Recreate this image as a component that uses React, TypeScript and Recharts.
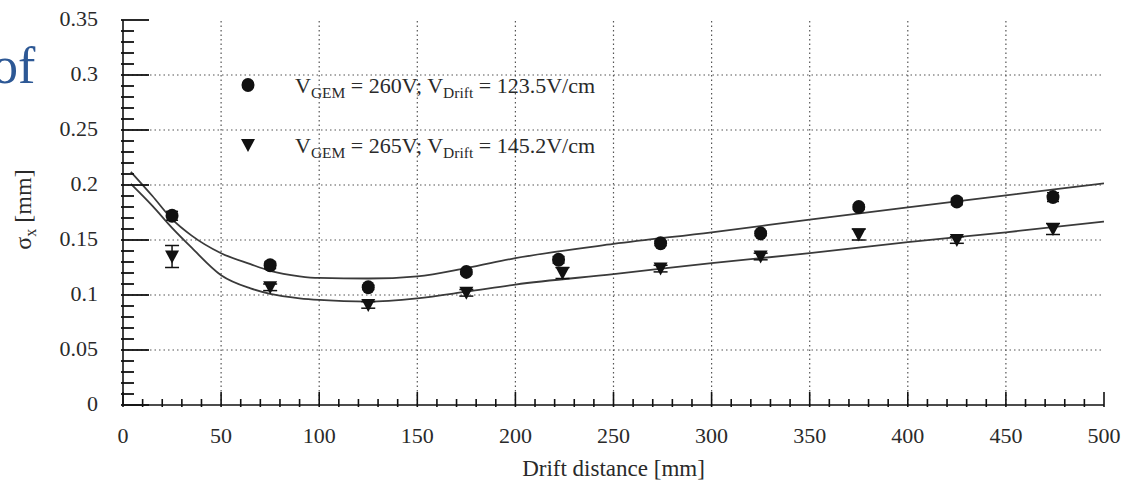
import React from 'react';
import { ComposedChart, XAxis, YAxis, Scatter, Line, ErrorBar, ReferenceLine, Legend, Label } from 'recharts';

// measured points, V_GEM = 260V
const DIST_260 = [25, 75, 125, 175, 222, 274, 325, 375, 425, 474];
const SIGMA_260 = [0.172, 0.127, 0.107, 0.121, 0.132, 0.147, 0.156, 0.18, 0.185, 0.189];
const ERR_260 = [0.004, 0.003, 0.002, 0.002, 0.003, 0.002, 0.002, 0.002, 0.003, 0.004];

// measured points, V_GEM = 265V
const DIST_265 = [25, 75, 125, 175, 224, 274, 325, 375, 425, 474];
const SIGMA_265 = [0.135, 0.107, 0.091, 0.102, 0.12, 0.124, 0.135, 0.155, 0.15, 0.16];
const ERR_265 = [0.01, 0.003, 0.003, 0.003, 0.005, 0.003, 0.003, 0.005, 0.003, 0.005];

// fit curves
const FIT_X = [4, 15, 25, 35, 50, 65, 75, 90, 100, 125, 150, 175, 200, 250, 300, 350, 400, 450, 500];
const FIT_260 = [0.212, 0.19, 0.169, 0.154, 0.138, 0.128, 0.122, 0.117, 0.1155, 0.115, 0.117, 0.1245, 0.1335, 0.1464, 0.157, 0.1685, 0.1797, 0.1906, 0.2015];
const FIT_265 = [0.201, 0.181, 0.161, 0.143, 0.118, 0.106, 0.101, 0.097, 0.0955, 0.094, 0.097, 0.103, 0.1095, 0.119, 0.129, 0.138, 0.148, 0.157, 0.1667];

const X_MAJOR = [0, 50, 100, 150, 200, 250, 300, 350, 400, 450, 500];
const Y_MAJOR = [0, 0.05, 0.1, 0.15, 0.2, 0.25, 0.3, 0.35];
const X_GRID = [50, 100, 150, 200, 250, 300, 350, 400, 450];
const Y_GRID = [0.05, 0.1, 0.15, 0.2, 0.25, 0.3];

// minor ticks every 10 mm / 0.01 mm
const X_TICKS = Array.from({ length: 51 }, (_, i) => i * 10);
const Y_TICKS = Array.from({ length: 36 }, (_, i) => i / 100);

const pts260 = DIST_260.map((x, i) => ({ x, y: SIGMA_260[i], err: ERR_260[i] }));
const pts265 = DIST_265.map((x, i) => ({ x, y: SIGMA_265[i], err: ERR_265[i] }));
const fit260 = FIT_X.map((x, i) => ({ x, y: FIT_260[i] }));
const fit265 = FIT_X.map((x, i) => ({ x, y: FIT_265[i] }));

const FONT = '"Liberation Serif", "DejaVu Serif", serif';
const INK = '#111';
const TXT = '#2a2a2a';

const isMajorX = (v: number) => X_MAJOR.includes(v);
const isMajorY = (v: number) => Y_MAJOR.some((m) => Math.abs(m - v) < 1e-6);

const BottomTick = (p: any) => {
  const major = isMajorX(p.payload.value);
  return (
    <g>
      <line x1={p.x} x2={p.x} y1={p.y} y2={p.y - (major ? 15 : 8)} stroke={INK} strokeWidth={1.6} />
      {major && (
        <text x={p.x} y={p.y + 36} textAnchor="middle" fontSize={22} fontFamily={FONT} fill={TXT}>
          {p.payload.value}
        </text>
      )}
    </g>
  );
};

const TopTick = (p: any) => {
  const major = isMajorX(p.payload.value);
  return <line x1={p.x} x2={p.x} y1={p.y} y2={p.y + (major ? 12 : 6)} stroke={INK} strokeWidth={1.6} />;
};

const LeftTick = (p: any) => {
  const v = p.payload.value;
  const major = isMajorY(v);
  return (
    <g>
      <line x1={p.x} x2={p.x + (major ? 28 : 13)} y1={p.y} y2={p.y} stroke={INK} strokeWidth={1.8} />
      {major && (
        <text x={p.x - 23} y={p.y + 6} textAnchor="end" fontSize={22} fontFamily={FONT} fill={TXT}>
          {String(Number(v.toFixed(2)))}
        </text>
      )}
    </g>
  );
};

const RightTick = (p: any) => {
  const major = isMajorY(p.payload.value);
  return <line x1={p.x} x2={p.x - (major ? 28 : 12)} y1={p.y} y2={p.y} stroke={INK} strokeWidth={1.8} />;
};

const YLabel = (p: any) => {
  const vb = p.viewBox || { x: 23, y: 20, width: 100, height: 385 };
  const cx = vb.x + 8;
  const cy = vb.y + vb.height / 2 - 3;
  return (
    <text transform={`translate(${cx}, ${cy}) rotate(-90)`} textAnchor="middle" fontSize={24} fontFamily={FONT} fill={TXT}>
      σ<tspan fontSize={16} dy={5}>x</tspan>
      <tspan dy={-5}> [mm]</tspan>
    </text>
  );
};

const Dot = (p: any) => <ellipse cx={p.cx} cy={p.cy} rx={6.5} ry={7} fill={INK} />;
const DownTri = (p: any) => (
  <polygon points={`${p.cx - 7},${p.cy - 6} ${p.cx + 7},${p.cy - 6} ${p.cx},${p.cy + 7}`} fill={INK} />
);

const LegendBox = () => (
  <svg width={420} height={110}>
    <ellipse cx={18} cy={20} rx={6.5} ry={7} fill={INK} />
    <text x={65} y={28} fontSize={22} fontFamily={FONT} fill={TXT}>
      V<tspan fontSize={15.5} dy={5}>GEM</tspan>
      <tspan dy={-5}> = 260V; V</tspan>
      <tspan fontSize={15.5} dy={5}>Drift</tspan>
      <tspan dy={-5}> = 123.5V/cm</tspan>
    </text>
    <polygon points="11,74 25,74 18,87" fill={INK} />
    <text x={65} y={88} fontSize={22} fontFamily={FONT} fill={TXT}>
      V<tspan fontSize={15.5} dy={5}>GEM</tspan>
      <tspan dy={-5}> = 265V; V</tspan>
      <tspan fontSize={15.5} dy={5}>Drift</tspan>
      <tspan dy={-5}> = 145.2V/cm</tspan>
    </text>
  </svg>
);

const frame = { stroke: INK, strokeWidth: 1.6 };

export default function App() {
  return (
    <div style={{ position: 'absolute', left: 0, top: 0, width: 1140, height: 485, background: '#fff', overflow: 'hidden' }}>
      <svg width={60} height={100} style={{ position: 'absolute', left: 0, top: 0 }}>
        <text x={-8} y={83} fontSize={52} fontFamily={FONT} fill="#2d5895">of</text>
      </svg>
      <ComposedChart width={1140} height={485} margin={{ top: 20, right: 36, left: 23, bottom: 0 }}>
        <XAxis type="number" dataKey="x" domain={[0, 500]} ticks={X_TICKS} interval={0} tickSize={0}
          tickLine={false} axisLine={frame} tick={<BottomTick />} height={80} allowDataOverflow>
          <Label value="Drift distance [mm]" position="insideBottom" offset={9} fontSize={23} fontFamily={FONT} fill={TXT} />
        </XAxis>
        <XAxis xAxisId="top" orientation="top" type="number" dataKey="x" domain={[0, 500]} ticks={X_TICKS}
          interval={0} tickSize={0} tickLine={false} axisLine={frame} tick={<TopTick />} height={0} />
        <YAxis type="number" dataKey="y" domain={[0, 0.35]} ticks={Y_TICKS} interval={0} tickSize={0}
          tickLine={false} axisLine={frame} tick={<LeftTick />} width={100} label={<YLabel />} allowDataOverflow />
        <YAxis yAxisId="right" orientation="right" type="number" domain={[0, 0.35]} ticks={Y_TICKS}
          interval={0} tickSize={0} tickLine={false} axisLine={frame} tick={<RightTick />} width={0} />

        {X_GRID.map((v) => (
          <ReferenceLine key={`gx${v}`} x={v} stroke="#555" strokeWidth={1.2} strokeDasharray="1.5 3" />
        ))}
        {Y_GRID.map((v) => (
          <ReferenceLine key={`gy${v}`} y={v} stroke="#555" strokeWidth={1.2} strokeDasharray="1.5 3" />
        ))}

        <Line data={fit260} dataKey="y" type="monotone" stroke="#3a3a3a" strokeWidth={1.8} dot={false} isAnimationActive={false} />
        <Line data={fit265} dataKey="y" type="monotone" stroke="#3a3a3a" strokeWidth={1.8} dot={false} isAnimationActive={false} />

        <Scatter data={pts260} dataKey="y" shape={Dot} isAnimationActive={false}>
          <ErrorBar dataKey="err" direction="y" width={6} stroke={INK} strokeWidth={1.5} />
        </Scatter>
        <Scatter data={pts265} dataKey="y" shape={DownTri} isAnimationActive={false}>
          <ErrorBar dataKey="err" direction="y" width={7} stroke={INK} strokeWidth={1.5} />
        </Scatter>

        <Legend layout="vertical" align="center" verticalAlign="middle" content={<LegendBox />}
          wrapperStyle={{ left: 230, top: 65, width: 420, height: 110 }} />
      </ComposedChart>
    </div>
  );
}
